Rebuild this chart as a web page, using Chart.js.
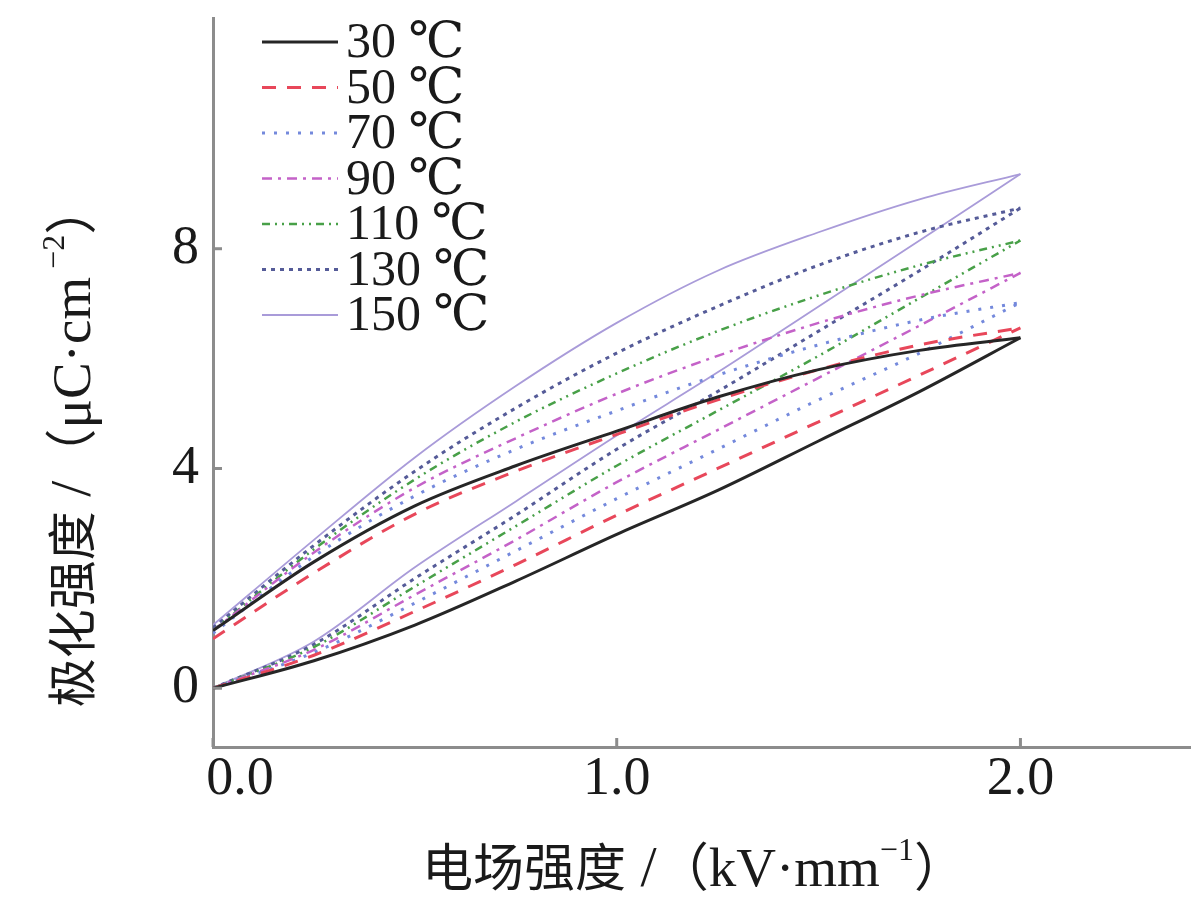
<!DOCTYPE html>
<html>
<head>
<meta charset="utf-8">
<script src="https://cdn.jsdelivr.net/npm/chart.js@4.4.1/dist/chart.umd.min.js"></script>
<style>
    html, body { margin: 0; padding: 0; background: #fff; }
    #wrap { width: 1200px; height: 911px; }
</style>
</head>
<body>
<div id="wrap"><canvas id="grafico" width="1200" height="911"></canvas></div>
<script>
// electric field points, kV/mm
const campo = [0, 0.25, 0.5, 0.75, 1.0, 1.25, 1.5, 1.75, 2.0];
const temperaturas = ['30 ℃', '50 ℃', '70 ℃', '90 ℃', '110 ℃', '130 ℃', '150 ℃'];
const ticksX = [0, 1, 2];
const ticksY = [0, 4, 8];

// rising branch (lower part of the loop), µC/cm²
const subida30  = [0, 0.50, 1.15, 1.95, 2.80, 3.60, 4.50, 5.40, 6.38];
const subida50  = [0, 0.60, 1.40, 2.25, 3.15, 4.00, 4.85, 5.70, 6.56];
const subida70  = [0, 0.65, 1.55, 2.50, 3.45, 4.35, 5.25, 6.10, 7.02];
const subida90  = [0, 0.70, 1.70, 2.70, 3.75, 4.70, 5.65, 6.60, 7.56];
const subida110 = [0, 0.75, 1.85, 2.95, 4.05, 5.05, 6.05, 7.10, 8.15];
const subida130 = [0, 0.80, 2.00, 3.15, 4.35, 5.40, 6.50, 7.60, 8.74];
const subida150 = [0, 0.85, 2.20, 3.40, 4.60, 5.75, 6.95, 8.15, 9.36];

// falling branch (upper part of the loop), same field points
const descida30  = [1.05, 2.30, 3.32, 4.05, 4.68, 5.30, 5.80, 6.15, 6.38];
const descida50  = [0.90, 2.10, 3.17, 3.95, 4.62, 5.25, 5.80, 6.25, 6.56];
const descida70  = [1.00, 2.40, 3.50, 4.35, 5.05, 5.70, 6.25, 6.70, 7.02];
const descida90  = [1.05, 2.47, 3.65, 4.55, 5.36, 6.05, 6.65, 7.15, 7.56];
const descida110 = [1.05, 2.53, 3.80, 4.85, 5.73, 6.50, 7.15, 7.70, 8.15];
const descida130 = [1.10, 2.60, 3.95, 5.10, 6.10, 6.95, 7.70, 8.30, 8.74];
const descida150 = [1.15, 2.70, 4.20, 5.50, 6.65, 7.60, 8.30, 8.90, 9.36];

const subidas = [subida30, subida50, subida70, subida90, subida110, subida130, subida150];
const descidas = [descida30, descida50, descida70, descida90, descida110, descida130, descida150];

const cores = ['#262626', '#e8475a', '#7489dc', '#c462c8', '#48a048', '#555b98', '#a99bd9'];
const tracos = [[], [14, 11], [3, 9], [10, 6, 3, 6], [8, 5, 2, 5, 2, 5], [4, 5], []];
const larguras = [3, 3, 3, 2.5, 2.5, 3, 1.8];

const serif = "'Liberation Serif', 'DejaVu Serif', serif";
const cjk = "'Noto Sans CJK SC', 'Noto Sans CJK JP', sans-serif";
const corEixo = '#8c8c8c';

const datasets = [];
temperaturas.forEach((t, i) => {
    [subidas[i], descidas[i]].forEach((ramo, k) => {
        datasets.push({
            label: t + (k === 0 ? ' up' : ' down'),
            data: ramo.map((v, j) => ({ x: campo[j], y: v })),
            showLine: true,
            borderColor: cores[i],
            borderDash: tracos[i],
            borderWidth: larguras[i],
            pointRadius: 0,
            cubicInterpolationMode: 'monotone',
            fill: false
        });
    });
});

function textoMisto(ctx, partes, cx, cy) {
    // partes: [texto, fonte, deslocamento vertical]
    let total = 0;
    partes.forEach(p => { ctx.font = p[1]; total += ctx.measureText(p[0]).width; });
    let x = cx - total / 2;
    ctx.textBaseline = 'alphabetic';
    ctx.textAlign = 'left';
    partes.forEach(p => {
        ctx.font = p[1];
        ctx.fillText(p[0], x, cy + (p[2] || 0));
        x += ctx.measureText(p[0]).width;
    });
}

const extras = {
    id: 'extras',
    afterDraw(chart) {
        const ctx = chart.ctx;
        const area = chart.chartArea;
        const sx = chart.scales.x;
        const sy = chart.scales.y;

        // inner tick marks
        ctx.save();
        ctx.strokeStyle = corEixo;
        ctx.lineWidth = 3;
        ticksX.forEach(v => {
            const px = sx.getPixelForValue(v);
            ctx.beginPath();
            ctx.moveTo(px, area.bottom);
            ctx.lineTo(px, area.bottom - 9);
            ctx.stroke();
        });
        ticksY.forEach(v => {
            const py = sy.getPixelForValue(v);
            ctx.beginPath();
            ctx.moveTo(area.left, py);
            ctx.lineTo(area.left + 9, py);
            ctx.stroke();
        });
        ctx.restore();

        // axis titles
        ctx.save();
        ctx.fillStyle = '#1a1a1a';
        textoMisto(ctx, [
            ['电场强度', '51px ' + cjk],
            [' /', '58px ' + serif],
            ['（', '52px ' + cjk],
            ['kV·mm', '55px ' + serif],
            ['−1', '32px ' + serif, -26],
            ['）', '52px ' + cjk]
        ], 694, 886);
        ctx.translate(90, 445);
        ctx.rotate(-Math.PI / 2);
        textoMisto(ctx, [
            ['极化强度', '49px ' + cjk],
            [' /', '58px ' + serif],
            ['（', '52px ' + cjk],
            ['μC·cm', '55px ' + serif],
            [' −2', '32px ' + serif, -26],
            ['）', '52px ' + cjk]
        ], 0, 0);
        ctx.restore();

        // legend
        ctx.save();
        temperaturas.forEach((t, i) => {
            const y = 42 + i * 45.5;
            ctx.strokeStyle = cores[i];
            ctx.lineWidth = larguras[i];
            ctx.setLineDash(tracos[i]);
            ctx.beginPath();
            ctx.moveTo(262, y);
            ctx.lineTo(338, y);
            ctx.stroke();
            ctx.setLineDash([]);
            ctx.fillStyle = '#1a1a1a';
            ctx.font = '50px ' + serif;
            ctx.textAlign = 'left';
            ctx.textBaseline = 'middle';
            ctx.fillText(t, 346, y + 2);
        });
        ctx.restore();
    }
};

new Chart(document.getElementById('grafico').getContext('2d'), {
    type: 'scatter',
    data: { datasets: datasets },
    options: {
        responsive: false,
        animation: false,
        devicePixelRatio: 1,
        layout: { padding: { left: 0, top: 18, right: 10, bottom: 0 } },
        plugins: { legend: { display: false }, tooltip: { enabled: false } },
        scales: {
            x: {
                type: 'linear',
                min: 0,
                max: 2.42,
                afterBuildTicks: s => { s.ticks = ticksX.map(v => ({ value: v })); },
                afterFit: s => { s.height = 164; s.paddingLeft = 0; s.paddingRight = 0; },
                grid: { display: false, drawTicks: false },
                border: { display: true, color: corEixo, width: 3 },
                ticks: {
                    color: '#1a1a1a',
                    font: { family: serif, size: 54 },
                    padding: 0,
                    maxRotation: 0,
                    callback: v => (v === 0 ? '\u2007\u2007' : '') + v.toFixed(1)
                }
            },
            y: {
                type: 'linear',
                min: -1.07,
                max: 12.2,
                afterBuildTicks: s => { s.ticks = ticksY.map(v => ({ value: v })); },
                afterFit: s => { s.width = 213; s.paddingTop = 0; s.paddingBottom = 0; },
                grid: { display: false, drawTicks: false },
                border: { display: true, color: corEixo, width: 3 },
                ticks: {
                    color: '#1a1a1a',
                    font: { family: serif, size: 54 },
                    padding: 14,
                    callback: v => String(v)
                }
            }
        }
    },
    plugins: [extras]
});
</script>
</body>
</html>
